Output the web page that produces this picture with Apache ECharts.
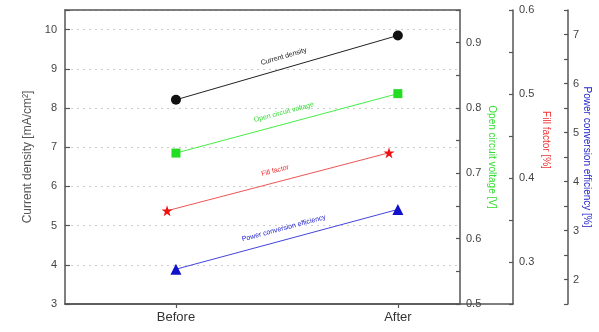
<!DOCTYPE html>
<html><head><meta charset="utf-8">
<script src="https://cdn.jsdelivr.net/npm/echarts@6/dist/echarts.min.js"></script>
<style>html,body{margin:0;padding:0;background:#fff}#c{width:599px;height:332px}</style>
</head><body><div id="c"></div>
<script>
var categories = ['Before', 'After'];
var currentDensity = [8.21, 9.85];
var openCircuitVoltage = [0.731, 0.822];
var fillFactor = [0.361, 0.430];
var powerConversionEfficiency = [2.21, 3.43];

var FONT = '"Liberation Sans", Arial, sans-serif';
var AX = '#555';

function pts(arr){ return arr.map(function(v,i){ return [i+1, v]; }); }
function lbl(arr, name, color){
  return {
    silent: true, symbol: 'none', animation: false,
    lineStyle: { color: 'rgba(0,0,0,0)', width: 1, type: 'solid' },
    label: { show: true, position: 'insideMiddleTop', distance: 8, formatter: name,
             color: color, fontSize: 7, fontFamily: FONT },
    data: [[{ coord: [1, arr[0]] }, { coord: [2, arr[1]] }]]
  };
}
function fmtTenth(v){ var r = Math.round(v*10)/10; return Math.abs(v - r) < 1e-6 ? r.toFixed(1) : ''; }
function fmtInt(v){ return Math.abs(v - Math.round(v)) < 1e-6 ? String(Math.round(v)) : ''; }

var axLine = { show: true, lineStyle: { color: AX, width: 1.5 } };
var tickIn = { show: true, inside: true, length: 5, lineStyle: { color: AX, width: 1.2 } };

var chart = echarts.init(document.getElementById('c'), null, { renderer: 'canvas' });
chart.setOption({
  animation: false,
  backgroundColor: '#fff',
  grid: [
    { left: 65, right: 139, top: 10, bottom: 28, outerBoundsMode: 'none', containLabel: false },
    { left: 65, right: 86, top: 10, bottom: 28, outerBoundsMode: 'none', containLabel: false }
  ],
  xAxis: [
    { type: 'value', gridIndex: 0, min: 0.5, max: 2.28, position: 'bottom',
      axisLine: axLine, splitLine: { show: false },
      axisTick: { show: true, inside: false, length: 4, customValues: [1, 2], lineStyle: { color: AX, width: 1.2 } },
      axisLabel: { customValues: [1, 2], formatter: function(v){ return categories[Math.round(v)-1]; },
                   color: '#333', fontSize: 13, fontFamily: FONT, margin: 7 } },
    { type: 'value', gridIndex: 0, min: 0.54, max: 2.32, position: 'top',
      axisLine: axLine, axisTick: { show: false }, axisLabel: { show: false }, splitLine: { show: false } },
    { type: 'value', gridIndex: 1, min: 0, max: 1, position: 'bottom',
      axisLine: axLine, axisTick: { show: false }, axisLabel: { show: false }, splitLine: { show: false } }
  ],
  yAxis: [
    { type: 'value', gridIndex: 0, min: 3, max: 10.5, interval: 1, position: 'left',
      name: 'Current density [mA/cm²]', nameLocation: 'middle', nameGap: 31, nameMoveOverlap: false,
      nameTextStyle: { color: '#555', fontSize: 12, fontFamily: FONT },
      axisLine: axLine, axisTick: tickIn,
      axisLabel: { formatter: fmtInt, color: '#444', fontSize: 11, fontFamily: FONT, margin: 8 },
      splitLine: { show: true, lineStyle: { color: '#ccc', type: [2, 4], width: 1 } } },
    { type: 'value', gridIndex: 0, min: 0.5, max: 0.95, interval: 0.05, position: 'right', offset: 0,
      name: 'Open circuit voltage [V]', nameLocation: 'middle', nameGap: 27, nameRotate: -90, nameMoveOverlap: false,
      nameTextStyle: { color: '#33dd33', fontSize: 10, fontFamily: FONT },
      axisLine: axLine, axisTick: { show: true, inside: true, length: 4, lineStyle: { color: AX, width: 1.2 } },
      axisLabel: { formatter: fmtTenth, color: '#444', fontSize: 11, fontFamily: FONT, margin: 6 },
      splitLine: { show: false } },
    { type: 'value', gridIndex: 0, min: 0.25, max: 0.6, interval: 0.05, position: 'right', offset: 53,
      name: 'Fill factor [%]', nameLocation: 'middle', nameGap: 28, nameRotate: -90, nameMoveOverlap: false,
      nameTextStyle: { color: '#ee3333', fontSize: 10, fontFamily: FONT, padding: [0, 34, 0, 0] },
      axisLine: axLine, axisTick: { show: true, inside: true, length: 4, lineStyle: { color: AX, width: 1.2 } },
      axisLabel: { formatter: fmtTenth, color: '#444', fontSize: 11, fontFamily: FONT, margin: 6 },
      splitLine: { show: false } },
    { type: 'value', gridIndex: 0, min: 1.5, max: 7.5, interval: 0.5, position: 'right', offset: 108,
      name: 'Power conversion efficiency [%]', nameLocation: 'middle', nameGap: 14, nameRotate: -90, nameMoveOverlap: false,
      nameTextStyle: { color: '#2222cc', fontSize: 10, fontFamily: FONT },
      axisLine: axLine, axisTick: { show: true, inside: true, length: 4, lineStyle: { color: AX, width: 1.2 } },
      axisLabel: { formatter: fmtInt, color: '#444', fontSize: 11, fontFamily: FONT, margin: 5 },
      splitLine: { show: false } },
    { type: 'value', gridIndex: 1, min: 0, max: 1, show: false }
  ],
  series: [
    { name: 'Current density', type: 'line', xAxisIndex: 0, yAxisIndex: 0, data: pts(currentDensity),
      symbol: 'circle', symbolSize: 10, itemStyle: { color: '#111' },
      lineStyle: { color: '#222', width: 1 }, markLine: lbl(currentDensity, 'Current density', '#111') },
    { name: 'Open circuit voltage', type: 'line', xAxisIndex: 0, yAxisIndex: 1, data: pts(openCircuitVoltage),
      symbol: 'rect', symbolSize: 9, itemStyle: { color: '#22dd22' },
      lineStyle: { color: '#44ee44', width: 1 }, markLine: lbl(openCircuitVoltage, 'Open circuit voltage', '#33dd33') },
    { name: 'Fill factor', type: 'line', xAxisIndex: 1, yAxisIndex: 2, data: pts(fillFactor),
      symbol: 'path://M50,0 L61.8,35.5 L99,35.5 L69,57.5 L80.5,93 L50,71 L19.5,93 L31,57.5 L1,35.5 L38.2,35.5 Z',
      symbolSize: 11, itemStyle: { color: '#ee1111' },
      lineStyle: { color: '#ee5555', width: 1 }, markLine: lbl(fillFactor, 'Fill factor', '#ee3333') },
    { name: 'Power conversion efficiency', type: 'line', xAxisIndex: 0, yAxisIndex: 3, data: pts(powerConversionEfficiency),
      symbol: 'triangle', symbolSize: 11, itemStyle: { color: '#1111cc' },
      lineStyle: { color: '#4444dd', width: 1 }, markLine: lbl(powerConversionEfficiency, 'Power conversion efficiency', '#2222cc') }
  ]
});
</script></body></html>
